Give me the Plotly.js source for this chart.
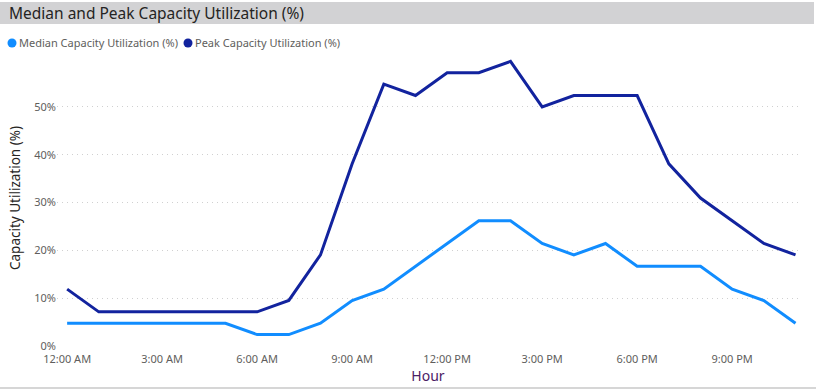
<!DOCTYPE html>
<html>
<head>
<meta charset="utf-8">
<script src="https://cdn.plot.ly/plotly-3.0.1.min.js"></script>
<style>html,body{margin:0;padding:0;background:#fff;}#chart{width:816px;height:390px;}</style>
</head>
<body>
<div id="chart"></div>
<script>
const hours = [0,1,2,3,4,5,6,7,8,9,10,11,12,13,14,15,16,17,18,19,20,21,22,23];
const medianUtil = [4.76,4.76,4.76,4.76,4.76,4.76,2.38,2.38,4.76,9.52,11.9,16.67,21.43,26.19,26.19,21.43,19.05,21.43,16.67,16.67,16.67,11.9,9.52,4.76];
const peakUtil = [11.9,7.14,7.14,7.14,7.14,7.14,7.14,9.52,19.05,38.1,54.76,52.38,57.14,57.14,59.52,50,52.38,52.38,52.38,38.1,30.95,26.19,21.43,19.05];
const seriesNames = ["Median Capacity Utilization (%)", "Peak Capacity Utilization (%)"];
const seriesColors = ["#118DFF", "#12239E"];
const xTickVals = [0,3,6,9,12,15,18,21];
const xTickText = ["12:00 AM","3:00 AM","6:00 AM","9:00 AM","12:00 PM","3:00 PM","6:00 PM","9:00 PM"];
const yTickVals = [0,10,20,30,40,50];
const yTickText = ["0%","10%","20%","30%","40%","50%"];

const FONT = "Noto Sans, Open Sans, sans-serif";
const seriesData = [medianUtil, peakUtil];
const traces = seriesData.map((ys, i) => ({
  x: hours, y: ys, type: "scatter", mode: "lines", name: seriesNames[i],
  line: {color: seriesColors[i], width: 3}
}));

const ML = 57, MR = 17, MT = 50, MB = 44;
const PW = 816 - ML - MR, PH = 390 - MT - MB;
const px = (x) => (x - ML) / PW;          // pixel x -> paper
const py = (y) => (390 - MB - y) / PH;    // pixel y -> paper

// legend built from the series names/colours
const legendX = [12, 188];
const legendY = 43;
const legendShapes = seriesNames.map((n, i) => ({
  type: "circle", xref: "paper", yref: "paper", xsizemode: "pixel", ysizemode: "pixel",
  xanchor: px(legendX[i]), yanchor: py(legendY), x0: -4.5, x1: 4.5, y0: -4.5, y1: 4.5,
  fillcolor: seriesColors[i], line: {width: 0}
}));
const legendAnn = seriesNames.map((n, i) => ({
  text: n, xref: "paper", yref: "paper", x: px(legendX[i] + 5), y: py(legendY),
  xanchor: "left", yanchor: "middle", showarrow: false,
  font: {size: 11, color: "#605E5C", family: FONT}
}));

const layout = {
  width: 816, height: 390,
  margin: {l: ML, r: MR, t: MT, b: MB},
  paper_bgcolor: "#ffffff", plot_bgcolor: "#ffffff",
  font: {family: FONT, color: "#605E5C", size: 11},
  showlegend: false,
  xaxis: {range: [-0.32, 23.11], tickvals: xTickVals, ticktext: xTickText, showgrid: false,
          zeroline: false, showline: false, ticks: "", tickfont: {size: 11, color: "#605E5C"},
          ticklabelstandoff: 5,
          title: {text: "Hour", font: {size: 14, color: "#4B2065"}, standoff: 6}},
  yaxis: {range: [0, 61.9], tickvals: yTickVals, ticktext: yTickText, showgrid: true,
          gridcolor: "#D0D0D0", griddash: "1px,4px", gridwidth: 1, zeroline: false, showline: false,
          ticks: "", tickfont: {size: 11, color: "#605E5C"},
          title: {text: "Capacity Utilization (%)", font: {size: 13.5, color: "#252423"}, standoff: 10}},
  shapes: [
    {type: "rect", xref: "paper", yref: "paper", x0: px(0), x1: px(814), y0: py(24), y1: py(2),
     fillcolor: "#D2D2D4", line: {width: 0}, layer: "below"},
    {type: "line", xref: "paper", yref: "paper", x0: px(0), x1: px(816), y0: py(388), y1: py(388),
     line: {color: "#C8C8C8", width: 1.5}}
  ].concat(legendShapes),
  annotations: [
    {text: "Median and Peak Capacity Utilization (%)", xref: "paper", yref: "paper",
     x: px(7), y: py(13), xanchor: "left", yanchor: "middle", showarrow: false,
     font: {size: 15.5, color: "#252423", family: FONT}}
  ].concat(legendAnn)
};
Plotly.newPlot("chart", traces, layout, {displayModeBar: false, staticPlot: true});
</script>
</body>
</html>
